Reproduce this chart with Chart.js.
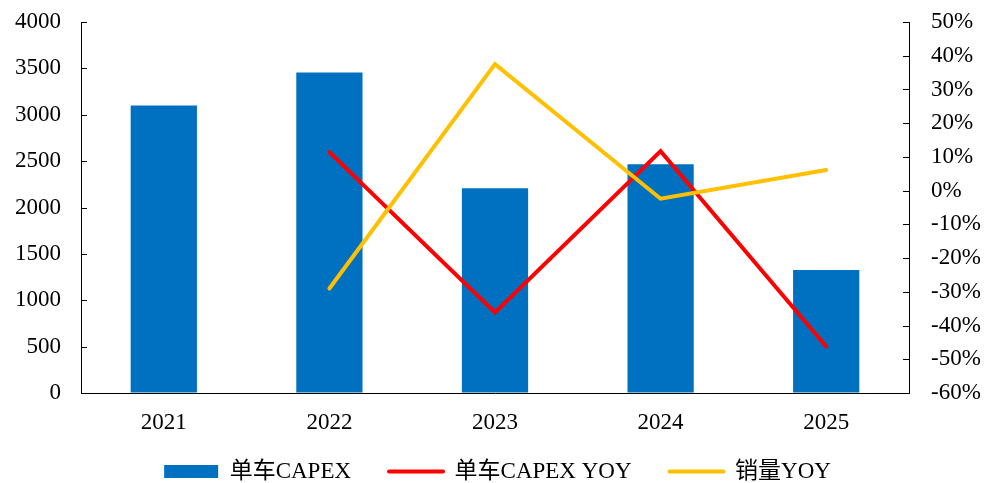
<!DOCTYPE html>
<html>
<head>
<meta charset="utf-8">
<script src="https://cdn.jsdelivr.net/npm/chart.js@4/dist/chart.umd.min.js"></script>
<style>
  html, body { margin: 0; padding: 0; background: #ffffff; }
  #wrap { width: 995px; height: 483px; position: relative; }
</style>
</head>
<body>
<div id="wrap"><canvas id="c" width="995" height="483"></canvas></div>
<script>
// ---- data ----
const categories = ['2021', '2022', '2023', '2024', '2025'];
const capexPerVehicle = [3100, 3455, 2207, 2466, 1326];
const capexYoy = [null, 11.4, -36.1, 11.7, -46.2];   // %
const salesYoy = [null, -29.0, 37.5, -2.4, 6.1];     // %
const seriesNames = ['单车CAPEX', '单车CAPEX YOY', '销量YOY'];

const FONT = "'Liberation Serif', 'Times New Roman', 'Noto Sans CJK SC', serif";
const FS = 23;

const innerTicks = {
  id: 'innerTicks',
  afterLayout(chart) {
    // let the x labels draw below the (thin) x box without being clipped
    chart.scales.x.bottom = chart.height;
  },
  afterDraw(chart) {
    const ctx = chart.ctx;
    const area = chart.chartArea;
    ctx.save();
    ctx.strokeStyle = '#000000';
    ctx.lineWidth = 1;
    const ys = chart.scales.y;
    ys.ticks.forEach((t, i) => {
      const p = Math.round(ys.getPixelForTick(i)) + 0.5;
      ctx.beginPath();
      ctx.moveTo(area.left, p);
      ctx.lineTo(area.left + 6, p);
      ctx.stroke();
    });
    const y1 = chart.scales.y1;
    y1.ticks.forEach((t, i) => {
      const p = Math.round(y1.getPixelForTick(i)) + 0.5;
      ctx.beginPath();
      ctx.moveTo(area.right - 6, p);
      ctx.lineTo(area.right, p);
      ctx.stroke();
    });
    ctx.restore();
  }
};

new Chart(document.getElementById('c'), {
  data: {
    labels: categories,
    datasets: [
      {
        type: 'bar',
        label: seriesNames[0],
        data: capexPerVehicle,
        backgroundColor: '#0070C0',
        borderWidth: 0,
        yAxisID: 'y',
        order: 3,
        barPercentage: 0.4,
        categoryPercentage: 1.0
      },
      {
        type: 'line',
        label: seriesNames[1],
        data: capexYoy,
        borderColor: '#FF0000',
        backgroundColor: '#FF0000',
        borderWidth: 4,
        pointRadius: 0,
        borderCapStyle: 'round',
        borderJoinStyle: 'miter',
        tension: 0,
        yAxisID: 'y1',
        order: 2
      },
      {
        type: 'line',
        label: seriesNames[2],
        data: salesYoy,
        borderColor: '#FFC000',
        backgroundColor: '#FFC000',
        borderWidth: 4,
        pointRadius: 0,
        borderCapStyle: 'round',
        borderJoinStyle: 'miter',
        tension: 0,
        yAxisID: 'y1',
        order: 1
      }
    ]
  },
  options: {
    responsive: false,
    animation: false,
    devicePixelRatio: 1,
    layout: { padding: { top: 22, left: 0, right: 0, bottom: -10 } },
    plugins: {
      tooltip: { enabled: false },
      legend: {
        position: 'bottom',
        labels: {
          color: '#000000',
          font: { family: FONT, size: FS },
          usePointStyle: true,
          pointStyleWidth: 54,
          boxHeight: 13,
          padding: 38,
          sort: (a, b) => a.datasetIndex - b.datasetIndex,
          generateLabels(chart) {
            const items = Chart.defaults.plugins.legend.labels.generateLabels(chart);
            items.forEach((it) => {
              if (it.datasetIndex === 0) {
                it.pointStyle = 'rect';
                it.lineWidth = 0;
                it.strokeStyle = 'rgba(0,0,0,0)';
              } else {
                it.pointStyle = 'line';
                it.lineWidth = 4;
                it.lineCap = 'round';
              }
            });
            return items;
          }
        }
      }
    },
    scales: {
      x: {
        grid: { display: false, drawTicks: false },
        border: { display: true, color: '#000000', width: 1 },
        ticks: { color: '#000000', font: { family: FONT, size: FS }, padding: 16 },
        afterFit(scale) { scale.height = 29; }
      },
      y: {
        position: 'left',
        min: 0, max: 4000,
        grid: { drawOnChartArea: false, drawTicks: false },
        border: { display: true, color: '#000000', width: 1 },
        ticks: {
          stepSize: 500, color: '#000000', font: { family: FONT, size: FS }, padding: 20,
          callback: (v) => String(v)
        },
        afterFit(scale) { scale.width = 81; scale.paddingTop = 12; scale.paddingBottom = 12; }
      },
      y1: {
        position: 'right',
        min: -60, max: 50,
        grid: { drawOnChartArea: false, drawTicks: false },
        border: { display: true, color: '#000000', width: 1 },
        ticks: {
          stepSize: 10, color: '#000000', font: { family: FONT, size: FS }, padding: 22,
          callback: (v) => v + '%'
        },
        afterFit(scale) { scale.width = 86; scale.paddingTop = 12; scale.paddingBottom = 12; }
      }
    }
  },
  plugins: [innerTicks]
});
</script>
</body>
</html>
